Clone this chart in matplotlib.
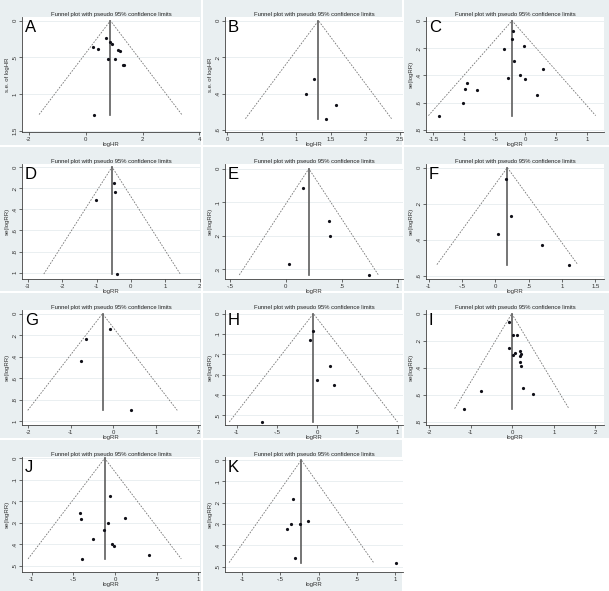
import matplotlib
matplotlib.use("Agg")
import matplotlib.pyplot as plt
from matplotlib.patches import Rectangle

# ---- data (effect, standard error, pooled estimate) ----
A_X = [0.72, 0.86, 0.25, 0.43, 0.94, 1.14, 1.21, 0.80, 1.02, 1.34, 1.31, 0.29]
A_SE = [0.23, 0.29, 0.36, 0.38, 0.32, 0.40, 0.42, 0.52, 0.52, 0.60, 0.61, 1.28]
A_EST = 0.87

B_X = [1.26, 1.14, 1.57, 1.43]
B_SE = [0.32, 0.405, 0.465, 0.538]
B_EST = 1.32

C_X = [-0.201, -0.212, -0.342, -0.022, -0.185, 0.288, -0.288, -0.082, -0.011,
       -0.957, -0.984, -0.793, 0.196, -1.016, -1.408]
C_SE = [0.073, 0.132, 0.21, 0.185, 0.293, 0.356, 0.417, 0.40, 0.424,
        0.454, 0.502, 0.507, 0.546, 0.60, 0.695]
C_EST = -0.218

D_X = [-0.485, -0.456, -1.01, -0.408]
D_SE = [0.148, 0.237, 0.312, 1.013]
D_EST = -0.55

E_X = [0.155, 0.387, 0.396, 0.030, 0.744]
E_SE = [0.057, 0.156, 0.20, 0.284, 0.317]
E_EST = 0.207

F_X = [0.165, 0.24, 0.035, 0.70, 1.10]
F_SE = [0.063, 0.27, 0.367, 0.428, 0.539]
F_EST = 0.18

G_X = [-0.079, -0.644, -0.762, 0.424]
G_SE = [0.142, 0.235, 0.443, 0.898]
G_EST = -0.255

H_X = [-0.052, -0.091, 0.157, -0.004, 0.215, -0.679]
H_SE = [0.084, 0.131, 0.256, 0.325, 0.349, 0.533]
H_EST = -0.045

I_X = [-0.072, 0.016, 0.104, -0.088, 0.192, 0.064, 0.008, 0.2, 0.184, 0.192,
       0.208, 0.257, 0.489, -0.762, -1.163]
I_SE = [0.064, 0.155, 0.16, 0.254, 0.278, 0.293, 0.305, 0.298, 0.31, 0.355,
        0.384, 0.549, 0.591, 0.569, 0.702]
I_EST = -0.015

J_X = [-0.06, -0.42, -0.408, 0.12, -0.088, -0.132, -0.26, -0.036, -0.012, 0.412, -0.396]
J_SE = [0.177, 0.256, 0.281, 0.276, 0.30, 0.335, 0.374, 0.40, 0.408, 0.452, 0.469]
J_EST = -0.124

K_X = [-0.33, -0.135, -0.239, -0.361, -0.409, -0.304, 1.013]
K_SE = [0.184, 0.286, 0.302, 0.302, 0.323, 0.458, 0.481]
K_EST = -0.226

# tick positions per panel
A_XT, A_YT = [-2, 0, 2, 4], [0, 0.5, 1, 1.5]
B_XT, B_YT = [0, 0.5, 1, 1.5, 2, 2.5], [0, 0.2, 0.4, 0.6]
C_XT, C_YT = [-1.5, -1, -0.5, 0, 0.5, 1], [0, 0.2, 0.4, 0.6, 0.8]
D_XT, D_YT = [-3, -2, -1, 0, 1, 2], [0, 0.2, 0.4, 0.6, 0.8, 1]
E_XT, E_YT = [-0.5, 0, 0.5, 1], [0, 0.1, 0.2, 0.3]
F_XT, F_YT = [-1, -0.5, 0, 0.5, 1, 1.5], [0, 0.2, 0.4, 0.6]
G_XT, G_YT = [-2, -1, 0, 1, 2], [0, 0.2, 0.4, 0.6, 0.8, 1]
H_XT, H_YT = [-1, -0.5, 0, 0.5, 1], [0, 0.1, 0.2, 0.3, 0.4, 0.5]
I_XT, I_YT = [-2, -1, 0, 1, 2], [0, 0.2, 0.4, 0.6, 0.8]
J_XT, J_YT = [-1, -0.5, 0, 0.5, 1], [0, 0.1, 0.2, 0.3, 0.4, 0.5]
K_XT, K_YT = [-1, -0.5, 0, 0.5, 1], [0, 0.1, 0.2, 0.3, 0.4, 0.5]

TITLE = "Funnel plot with pseudo 95% confidence limits"
HR_LABELS = ("logHR", "s.e. of logHR")
RR_LABELS = ("logRR", "se(logRR)")

W, H = 609, 591
COL_X = [0, 203, 404]
COL_W = [201, 199, 205]
ROW_Y = [0, 147, 293, 440]
ROW_H = [145, 144, 145, 151]
BG = "#e9eff1"

plt.rcParams["font.family"] = ["Liberation Sans", "DejaVu Sans"]


def stata_fmt(v):
    s = f"{v:g}"
    return s.replace("-0.", "-.") if s.startswith("-0.") else (s[1:] if s.startswith("0.") else s)


def funnel(ax, x, se, est, xt, yt, xlim, ylim, labels, letter):
    ax.set_facecolor("white")
    max_se = max(se)
    ax.plot([est - 1.96 * max_se, est, est + 1.96 * max_se], [max_se, 0, max_se],
            color="#747474", lw=0.6, dashes=(2.0, 1.6))
    ax.plot([est, est], [0, max_se], color="#646464", lw=1.25)
    ax.plot(x, se, "o", ms=2.3, color="#101018", mec="none")
    ax.set_xlim(*xlim)
    ax.set_ylim(*ylim)
    ax.set_xticks(xt, [stata_fmt(v) for v in xt])
    ax.set_yticks(yt, [stata_fmt(v) for v in yt])
    ax.yaxis.grid(True, color="#e6edef", lw=0.6)
    ax.set_axisbelow(True)
    for s in ("top", "right"):
        ax.spines[s].set_visible(False)
    for s in ("left", "bottom"):
        ax.spines[s].set_color("#404040")
        ax.spines[s].set_linewidth(0.6)
    ax.tick_params(labelsize=4.3, length=2.2, width=0.5, pad=1.2, colors="#303030")
    for t in ax.get_yticklabels():
        t.set_rotation(90)
        t.set_va("center")
    ax.set_xlabel(labels[0], fontsize=4.3, labelpad=0.5, color="#303030")
    ax.set_ylabel(labels[1], fontsize=4.3, labelpad=1.5, color="#303030")
    ax.set_title(TITLE, fontsize=4.2, pad=0.8, color="#202020")
    ax.annotate(letter, xy=(0, 1), xycoords="axes fraction", xytext=(3, -3),
                textcoords="offset pixels", fontsize=12, va="top", ha="left", color="black")


fig = plt.figure(figsize=(W / 100, H / 100), dpi=100)

panels = [
    ("A", A_X, A_SE, A_EST, A_XT, A_YT, (-2.24, 4.02), (1.518, -0.05), HR_LABELS),
    ("B", B_X, B_SE, B_EST, B_XT, B_YT, (-0.029, 2.54), (0.611, -0.02), HR_LABELS),
    ("C", C_X, C_SE, C_EST, C_XT, C_YT, (-1.62, 1.28), (0.815, -0.027), RR_LABELS),
    ("D", D_X, D_SE, D_EST, D_XT, D_YT, (-3.17, 2.01), (1.06, -0.028), RR_LABELS),
    ("E", E_X, E_SE, E_EST, E_XT, E_YT, (-0.542, 1.048), (0.329, -0.014), RR_LABELS),
    ("F", F_X, F_SE, F_EST, F_XT, F_YT, (-1.04, 1.63), (0.619, -0.02), RR_LABELS),
    ("G", G_X, G_SE, G_EST, G_XT, G_YT, (-2.15, 2.04), (1.034, -0.034), RR_LABELS),
    ("H", H_X, H_SE, H_EST, H_XT, H_YT, (-1.143, 1.068), (0.548, -0.018), RR_LABELS),
    ("I", I_X, I_SE, I_EST, I_XT, I_YT, (-2.08, 2.205), (0.823, -0.027), RR_LABELS),
    ("J", J_X, J_SE, J_EST, J_XT, J_YT, (-1.116, 1.02), (0.53, -0.006), RR_LABELS),
    ("K", K_X, K_SE, K_EST, K_XT, K_YT, (-1.222, 1.10), (0.525, -0.014), RR_LABELS),
]

for i, (letter, x, se, est, xt, yt, xlim, ylim, labels) in enumerate(panels):
    r, c = divmod(i, 3)
    cx, cy, cw, ch = COL_X[c], ROW_Y[r], COL_W[c], ROW_H[r]
    fig.patches.append(Rectangle((cx / W, 1 - (cy + ch) / H), cw / W, ch / H,
                                 transform=fig.transFigure, facecolor=BG,
                                 edgecolor="none", zorder=-10))
    left, right, top, bottom = cx + 22, cx + 200, cy + 17, cy + 132
    ax = fig.add_axes([left / W, 1 - bottom / H, (right - left) / W, (bottom - top) / H])
    ax.set_zorder(1)
    funnel(ax, x, se, est, xt, yt, xlim, ylim, labels, letter)

fig.savefig("out.png", dpi=100, facecolor="white")
